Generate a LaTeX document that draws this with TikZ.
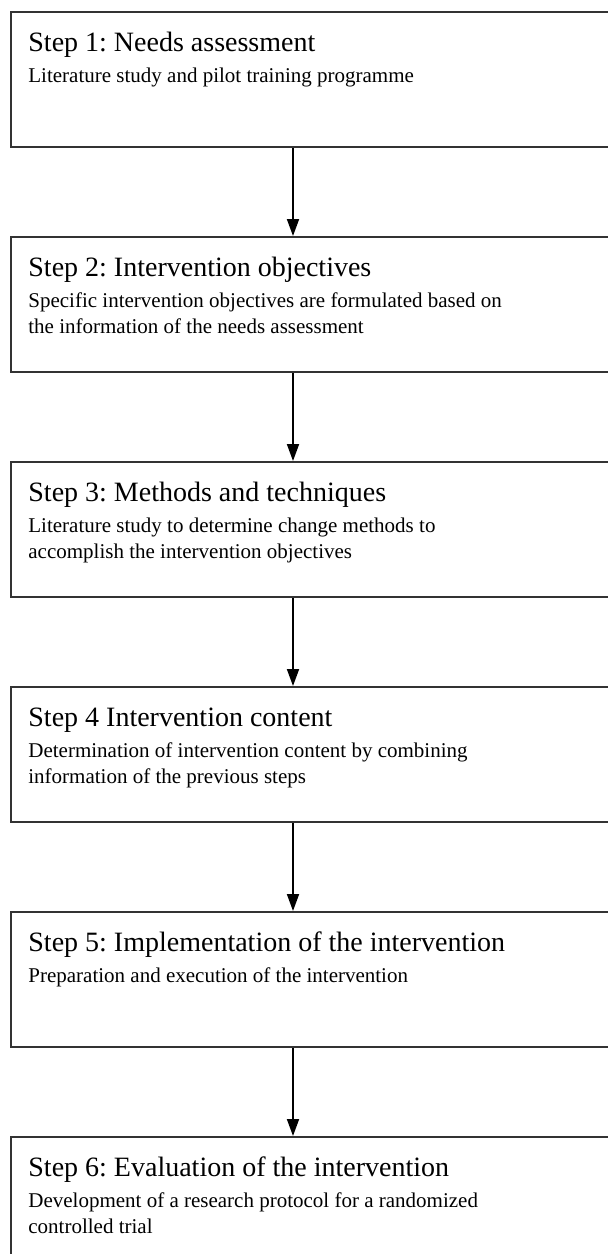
\documentclass[tikz,border=0pt]{standalone}
\usepackage{fontspec}
\setmainfont{Liberation Serif}
\frenchspacing
\usetikzlibrary{positioning, arrows.meta}
\tikzset{
    stepbox/.style={rectangle, draw=black!80, line width=1pt, minimum width=310pt, minimum height=67.5pt, inner sep=0pt},
    steptitle/.style={anchor=base west, inner sep=0pt, font=\fontsize{14}{16}\selectfont},
    stepnote/.style={anchor=base west, inner sep=0pt, align=left, font=\fontsize{10.5}{13}\selectfont},
    arrow/.style={-{Triangle[length=8.5pt, width=6pt]}, line width=0.9pt}
}

\begin{document}
\begin{tikzpicture}[x=0.5pt, y=-0.5pt, node distance=44pt]
    \clip (0,0) rectangle (608,1254);

    % Boxes
    \node[stepbox, anchor=north west] (s1) at (10,11) {};
    \node[stepbox, below=of s1] (s2) {};
    \node[stepbox, below=of s2] (s3) {};
    \node[stepbox, below=of s3] (s4) {};
    \node[stepbox, below=of s4] (s5) {};
    \node[stepbox, below=of s5] (s6) {};

    % Titles
    \node[steptitle] (t1) at ([shift={(9pt,-20pt)}]s1.north west) {Step 1: Needs assessment};
    \node[steptitle] (t2) at ([shift={(9pt,-20pt)}]s2.north west) {Step 2: Intervention objectives};
    \node[steptitle] (t3) at ([shift={(9pt,-20pt)}]s3.north west) {Step 3: Methods and techniques};
    \node[steptitle] (t4) at ([shift={(9pt,-20pt)}]s4.north west) {Step 4 Intervention content};
    \node[steptitle] (t5) at ([shift={(9pt,-20pt)}]s5.north west) {Step 5: Implementation of the intervention};
    \node[steptitle] (t6) at ([shift={(9pt,-20pt)}]s6.north west) {Step 6: Evaluation of the intervention};

    % Descriptions (base is the last line, so two-line ones sit one line lower)
    \node[stepnote] (n1) at ([shift={(9pt,-35.5pt)}]s1.north west) {Literature study and pilot training programme};
    \node[stepnote] (n2) at ([shift={(9pt,-48.5pt)}]s2.north west) {Specific intervention objectives are formulated based on\\the information of the needs assessment};
    \node[stepnote] (n3) at ([shift={(9pt,-48.5pt)}]s3.north west) {Literature study to determine change methods to\\accomplish the intervention objectives};
    \node[stepnote] (n4) at ([shift={(9pt,-48.5pt)}]s4.north west) {Determination of intervention content by combining\\information of the previous steps};
    \node[stepnote] (n5) at ([shift={(9pt,-35.5pt)}]s5.north west) {Preparation and execution of the intervention};
    \node[stepnote] (n6) at ([shift={(9pt,-48.5pt)}]s6.north west) {Development of a research protocol for a randomized\\controlled trial};

    % Arrows
    \foreach \a/\b in {s1/s2, s2/s3, s3/s4, s4/s5, s5/s6}
        \draw[arrow] ([xshift=141.5pt]\a.south west) -- ([xshift=141.5pt]\b.north west);
\end{tikzpicture}
\end{document}
